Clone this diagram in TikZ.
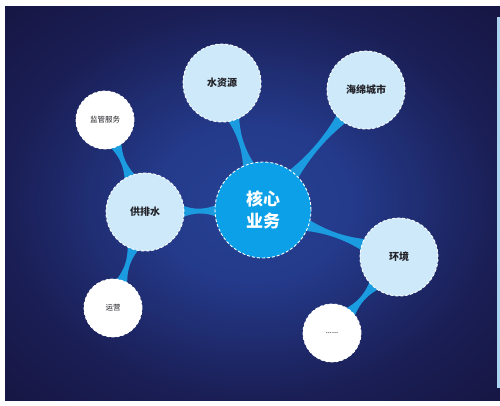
\documentclass[tikz,border=0pt]{standalone}
\usepackage{fontspec}
\newfontfamily\cjk{Noto Sans CJK SC}
\usetikzlibrary{calc}
\definecolor{linkc}{RGB}{27,155,224}
\definecolor{corec}{RGB}{12,160,232}
\definecolor{lightc}{RGB}{206,234,250}
\definecolor{stripc}{RGB}{170,212,240}
\definecolor{txt}{RGB}{34,34,40}
\pgfdeclareradialshading{bgshade}{\pgfpoint{0bp}{0bp}}{%
 rgb(0bp)=(0.157,0.259,0.580);
 rgb(10bp)=(0.141,0.227,0.541);
 rgb(25bp)=(0.102,0.118,0.333);
 rgb(36bp)=(0.086,0.086,0.262);
 rgb(50bp)=(0.086,0.086,0.262)}
\pgfdeclarelayer{back}
\pgfdeclarelayer{links}
\pgfsetlayers{back,links,main}
\tikzset{
 bub/.style={circle, draw=white, line width=0.9pt, dash pattern=on 3pt off 2pt, inner sep=0pt, text=txt},
 corebub/.style={bub, fill=corec, minimum size=96pt, text=white, font=\cjk\bfseries\fontsize{17}{22}\selectfont, align=center},
 midbub/.style={bub, fill=lightc, minimum size=78pt, font=\cjk\bfseries\fontsize{10}{12}\selectfont},
 smallbub/.style={bub, fill=white, minimum size=58pt, font=\cjk\fontsize{7.5}{9}\selectfont},
 linkfill/.style={fill=linkc}
}
\newcommand\taperlink[4]{%
 \coordinate (tA) at ($(#1.center)!#3!(#2.center)$);
 \coordinate (tB) at ($(#2.center)!#4!(#1.center)$);
 \fill[linkfill] ($(tA)!6pt!90:(tB)$)
   .. controls ($(tA)!0.35!(tB)!1.2pt!90:(tB)$) and ($(tA)!0.65!(tB)!1.2pt!90:(tB)$) .. ($(tB)!6pt!-90:(tA)$)
   -- ($(tB)!6pt!90:(tA)$)
   .. controls ($(tA)!0.65!(tB)!1.2pt!-90:(tB)$) and ($(tA)!0.35!(tB)!1.2pt!-90:(tB)$) .. ($(tA)!6pt!-90:(tB)$)
   -- cycle;
}
\begin{document}
\begin{tikzpicture}[x=1pt,y=-1pt]
\useasboundingbox (0,0) rectangle (500,405);
\begin{pgfonlayer}{back}
\fill[white] (0,0) rectangle (500,405);
\shade[shading=bgshade] (5,6) rectangle (500,400);
\fill[stripc] (496.5,17) rectangle (500,388);
\end{pgfonlayer}
\node[corebub] (core) at (263,210) {核心\\业务};
\node[midbub] (water) at (222,83) {水资源};
\node[midbub] (sponge) at (366,90) {海绵城市};
\node[midbub] (supply) at (145,212) {供排水};
\node[midbub] (env) at (399,257) {环境};
\node[smallbub] (superv) at (105,120) {监管服务};
\node[smallbub] (ops) at (113,308) {运营};
\node[smallbub] (more) at (332,333) {......};
\begin{pgfonlayer}{links}
\taperlink{core}{water}{46pt}{37pt}
\taperlink{core}{sponge}{46pt}{37pt}
\taperlink{core}{supply}{46pt}{37pt}
\taperlink{core}{env}{46pt}{37pt}
\taperlink{supply}{superv}{37pt}{27pt}
\taperlink{supply}{ops}{37pt}{27pt}
\taperlink{env}{more}{37pt}{27pt}
\end{pgfonlayer}
\end{tikzpicture}
\end{document}
